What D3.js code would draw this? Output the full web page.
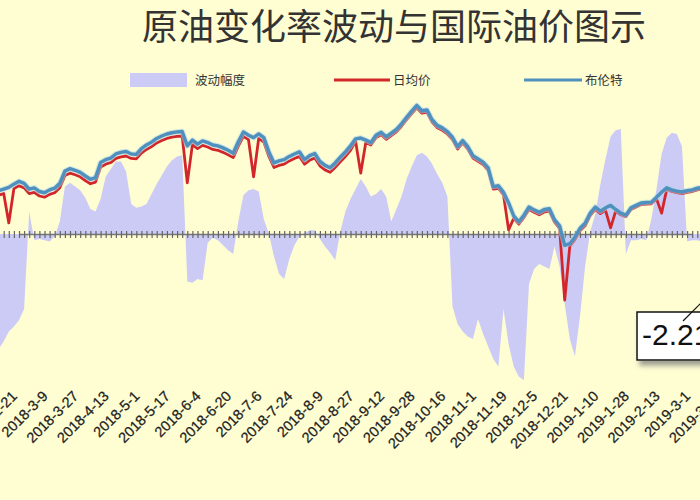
<!DOCTYPE html>
<html><head><meta charset="utf-8">
<script src="https://cdn.jsdelivr.net/npm/d3@7"></script>
<style>html,body{margin:0;padding:0;background:#fffed3;}svg{display:block;}</style>
</head><body>
<svg id="c" width="700" height="500"></svg>
<script>
// trading-day index of first sample, spacing between samples (trading days)
const firstDay = -8, stepDays = 2;
const tickLabels = ["2018-2-21","2018-3-9","2018-3-27","2018-4-13","2018-5-1","2018-5-17","2018-6-4","2018-6-20","2018-7-6","2018-7-24","2018-8-9","2018-8-27","2018-9-12","2018-9-28","2018-10-16","2018-11-1","2018-11-19","2018-12-5","2018-12-21","2019-1-10","2019-1-28","2019-2-13","2019-3-1","2019-3-19"];
const labelEvery = 12;
const seriesNames = ["波动幅度","日均价","布伦特"];
const brent = [
65.0,65.4,65.8,66.6,67.3,66.8,65.4,65.7,64.8,64.5,
65.2,65.6,66.8,69.8,70.4,70.0,69.5,68.6,67.8,68.2,
71.9,72.6,73.0,74.0,74.4,74.6,74.0,73.9,75.3,76.2,
76.9,77.8,78.4,78.9,79.2,79.4,79.5,76.0,77.4,76.4,
77.2,76.8,76.2,76.0,75.5,74.9,74.2,77.0,79.4,78.6,
78.0,78.9,78.0,74.5,71.8,72.3,72.6,73.4,74.0,74.5,
72.6,73.6,74.1,72.2,71.2,70.6,71.8,73.2,74.5,76.0,
77.7,77.9,77.4,76.8,78.6,79.3,78.2,79.1,80.0,81.4,
83.0,84.5,85.9,84.6,84.8,82.4,81.0,80.4,79.5,78.1,
75.8,77.3,75.8,73.6,72.8,72.0,70.6,66.0,66.2,64.6,
62.0,58.8,57.4,59.0,61.0,60.3,59.7,60.4,60.6,57.9,
56.4,51.6,52.0,53.6,55.8,57.0,59.5,61.0,60.0,60.8,
61.4,60.4,59.5,59.0,60.8,61.4,62.0,62.1,62.2,63.4,
64.6,65.7,65.2,64.9,64.7,65.0,65.2,65.6,65.8];
const dailyAvg = [
63.9,64.3,57.1,65.5,66.2,65.7,64.3,64.6,63.7,63.4,
64.1,64.5,65.7,68.7,69.3,68.9,68.4,67.5,66.7,67.1,
70.8,71.5,71.9,72.9,73.3,73.5,72.9,72.8,74.2,75.1,
75.8,76.7,77.3,77.8,78.1,78.3,78.4,66.9,76.3,75.3,
76.1,75.7,75.1,74.9,74.4,73.8,73.1,75.9,78.3,77.5,
68.4,77.8,76.9,73.4,70.7,71.2,71.5,72.3,72.9,73.4,
71.5,72.5,73.0,71.1,70.1,69.5,70.7,72.1,73.4,74.9,
77.1,69.3,76.8,76.2,78.0,78.7,77.6,78.5,79.4,80.8,
82.4,83.9,85.3,84.0,84.2,81.8,80.4,79.8,78.9,77.5,
75.2,76.7,75.2,73.0,72.2,71.4,70.0,65.4,65.6,64.0,
55.4,58.2,56.8,58.4,60.4,59.7,59.1,59.8,60.0,57.3,
55.8,38.2,51.4,53.0,55.2,56.4,58.9,60.4,59.4,60.2,
55.9,60.0,59.1,58.6,60.4,61.0,61.6,61.7,61.8,63.0,
59.5,65.3,64.8,64.5,64.3,64.6,64.8,65.2,65.4];
const volatility = [
-4.6,-4.3,-3.9,-3.7,-3.45,-3.0,0.9,-0.25,-0.2,-0.25,
-0.3,-0.1,0.5,1.9,2.05,1.9,1.75,1.45,1.0,0.9,
1.4,2.3,2.6,2.9,2.9,2.5,1.2,1.05,1.1,1.2,
1.6,2.0,2.35,2.7,2.95,3.1,3.15,-1.9,-1.95,-1.8,
-1.85,-0.35,-0.15,-0.25,-0.45,-0.65,-0.8,0.5,1.55,1.75,
1.8,1.7,0.6,0.0,-0.9,-1.6,-1.8,-1.0,-0.45,-0.1,
0.05,0.15,0.15,-0.2,-0.5,-0.75,-1.05,0.1,0.9,1.4,
1.8,2.2,1.9,1.5,1.6,1.8,1.5,0.5,1.0,1.5,
2.2,2.7,3.15,3.25,3.1,2.8,2.4,2.05,1.5,-2.9,
-3.6,-3.9,-4.1,-4.2,-3.4,-4.0,-4.5,-5.0,-5.3,-3.0,
-4.4,-5.3,-5.7,-5.85,-2.0,-1.4,-1.2,-1.3,-1.4,-0.5,
-1.3,-2.8,-4.2,-4.9,-3.3,-1.3,0.1,0.8,2.0,3.0,
3.9,4.15,4.2,-0.8,-0.25,-0.25,-0.2,-0.25,0.6,1.8,
3.2,3.85,4.05,4.0,3.5,-0.3,-0.25,-0.25,-0.3];
const calloutText = "-2.21";

const svg = d3.select("#c");
const W = 700, H = 500;
svg.append("rect").attr("width", W).attr("height", H).attr("fill", "#fffed2");

const x = d3.scaleLinear().domain([0, 264]).range([19, 19 + 2.55 * 264]);
const yP = d3.scaleLinear().domain([50, 86]).range([251.9, 105]);
const yV = d3.scaleLinear().domain([-6, 4]).range([384, 134]);
const dayOf = i => firstDay + i * stepDays;

// area
svg.append("path").datum(volatility)
  .attr("fill", "#cbcbf6")
  .attr("d", d3.area().x((d, i) => x(dayOf(i))).y0(yV(0)).y1(d => yV(d)));

// axis at zero
const axisY = yV(0);
const tickDays = d3.range(-8, 270, 2);
const ax = svg.append("g").attr("transform", `translate(0,${axisY})`)
  .call(d3.axisBottom(x).tickValues(tickDays).tickSize(0).tickFormat(""));
ax.select(".domain").attr("stroke", "#777").attr("stroke-width", 1.6);
ax.selectAll(".tick").append("line").attr("y1", -3).attr("y2", 4)
  .attr("stroke", "#666").attr("stroke-width", 1.2);

// lines
const lineGen = d3.line().x((d, i) => x(dayOf(i))).y(d => yP(d));
svg.append("path").datum(dailyAvg).attr("fill", "none")
  .attr("stroke", "#d3262b").attr("stroke-width", 2.8).attr("stroke-linejoin", "round")
  .attr("d", lineGen);
svg.append("path").datum(brent).attr("fill", "none")
  .attr("stroke", "#a9d6e6").attr("stroke-width", 5.5).attr("stroke-opacity", 0.55)
  .attr("stroke-linejoin", "round").attr("d", lineGen);
svg.append("path").datum(brent).attr("fill", "none")
  .attr("stroke", "#5090bf").attr("stroke-width", 3.4).attr("stroke-linejoin", "round")
  .attr("d", lineGen);

// category labels
svg.append("g").selectAll("text").data(tickLabels).join("text")
  .attr("transform", (d, k) => `translate(${x(k * labelEvery) - 1},397) rotate(-45)`)
  .attr("text-anchor", "end")
  .attr("font-family", "Liberation Sans, Arial, sans-serif")
  .attr("font-size", 14.5).attr("fill", "#222")
  .attr("stroke", "#222").attr("stroke-width", 0.25)
  .text(d => d);

// title
svg.append("text").attr("x", 394).attr("y", 40).attr("text-anchor", "middle")
  .attr("font-family", "Noto Sans CJK SC, sans-serif").attr("font-size", 36)
  .attr("fill", "#333").text("原油变化率波动与国际油价图示");

// legend
const lg = svg.append("g").attr("font-family", "Noto Sans CJK SC, sans-serif")
  .attr("font-size", 12.5).attr("fill", "#333");
lg.append("rect").attr("x", 130).attr("y", 73).attr("width", 57).attr("height", 14).attr("fill", "#cbcbf6");
lg.append("text").attr("x", 195).attr("y", 85).text(seriesNames[0]);
lg.append("line").attr("x1", 334).attr("x2", 390).attr("y1", 80).attr("y2", 80)
  .attr("stroke", "#d3262b").attr("stroke-width", 3);
lg.append("text").attr("x", 393).attr("y", 85).text(seriesNames[1]);
lg.append("line").attr("x1", 524).attr("x2", 582).attr("y1", 80).attr("y2", 80)
  .attr("stroke", "#5090bf").attr("stroke-width", 3);
lg.append("text").attr("x", 585).attr("y", 85).text(seriesNames[2]);

// callout
const defs = svg.append("defs");
const f = defs.append("filter").attr("id", "sh").attr("x", "-20%").attr("y", "-20%").attr("width", "150%").attr("height", "160%");
f.append("feDropShadow").attr("dx", 3).attr("dy", 5).attr("stdDeviation", 2.5).attr("flood-color", "#777").attr("flood-opacity", 0.7);
svg.append("rect").attr("x", 637).attr("y", 312).attr("width", 90).attr("height", 48)
  .attr("fill", "#fff").attr("stroke", "#111").attr("stroke-width", 1.5).attr("filter", "url(#sh)");
svg.append("text").attr("x", 642).attr("y", 345)
  .attr("font-family", "Liberation Sans, Arial, sans-serif").attr("font-size", 30).attr("fill", "#111")
  .text(calloutText);
svg.append("line").attr("x1", 683).attr("y1", 321).attr("x2", 706).attr("y2", 298)
  .attr("stroke", "#111").attr("stroke-width", 1.2);
</script>
</body></html>
